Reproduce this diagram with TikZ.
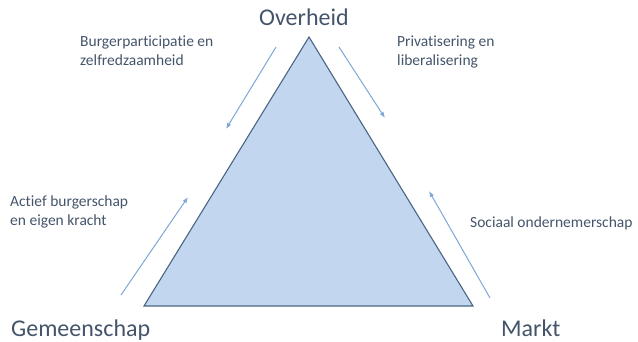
\documentclass[tikz,border=0pt]{standalone}
\usepackage{fontspec}
\setmainfont{Carlito}[Ligatures=NoCommon]
\usetikzlibrary{arrows.meta,positioning,calc}
\definecolor{labelgray}{HTML}{44546A}
\definecolor{trifill}{HTML}{C2D7EF}
\definecolor{triedge}{HTML}{4A6584}
\definecolor{flowblue}{HTML}{7FA6D6}

\begin{document}
\begin{tikzpicture}[x=1pt,y=-1pt,
    corner/.style={anchor=base west, inner sep=0pt, text=labelgray, font=\fontsize{24}{28}\selectfont},
    trend/.style={anchor=base west, inner sep=0pt, text=labelgray, align=left, font=\fontsize{15.5}{19}\selectfont},
    flow/.style={flowblue, line width=1pt, -{Latex[length=6pt,width=4.5pt]}}]
\useasboundingbox (0,0) rectangle (638,341);

% Triangle
\coordinate (top) at (309,37);
\coordinate (left) at (144,306);
\coordinate (right) at (473,306);
\filldraw[fill=trifill, draw=triedge, line width=1.1pt, line join=miter] (left) -- (top) -- (right) -- cycle;

% Corner labels
\node[corner] (overheid) at (259,25) {Overheid};
\node[corner] (gemeenschap) at (11,336) {Gemeenschap};
\node[corner] (markt) at (501,336) {Markt};

% Trends along the sides
\node[trend] (burger) at (80,65) {Burgerparticipatie en\\zelfredzaamheid};
\node[trend] (privat) at (397,65) {Privatisering en\\liberalisering};
\node[trend] (actief) at (10,225) {Actief burgerschap\\en eigen kracht};
\node[trend] (sociaal) at (470,227) {Sociaal ondernemerschap};

% Arrows
\coordinate (a1) at (276,47);  \coordinate (b1) at (226,129);
\coordinate (a2) at (339,47);  \coordinate (b2) at (385,118);
\coordinate (a3) at (121,295); \coordinate (b3) at (188,197);
\coordinate (a4) at (490,298); \coordinate (b4) at (429,191);
\draw[flow] (a1) -- (b1);
\draw[flow] (a2) -- (b2);
\draw[flow] (a3) -- (b3);
\draw[flow] (a4) -- (b4);

\end{tikzpicture}
\end{document}
